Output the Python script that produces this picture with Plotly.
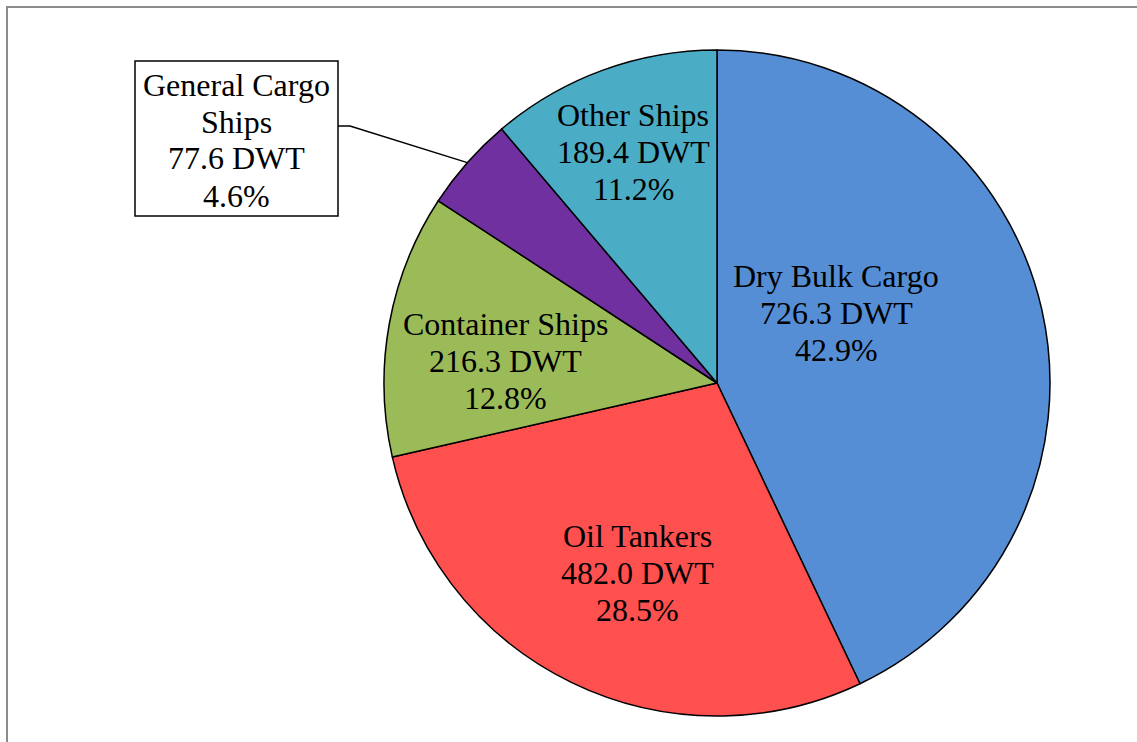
import plotly.graph_objects as go
import math

# Fleet composition by deadweight tonnage
categories = ["Dry Bulk Cargo", "Oil Tankers", "Container Ships", "General Cargo Ships", "Other Ships"]
dwt = [726.3, 482.0, 216.3, 77.6, 189.4]
colors = ["#558ED5", "#FF5050", "#9BBB59", "#7030A0", "#4BACC6"]

# label line-wrapping as drawn on the chart
label_lines = {
    "General Cargo Ships": ["General Cargo", "Ships"],
}

W, H = 1137, 742
CX, CY, R = 717, 383, 333
FONT = dict(family="Liberation Serif, Times New Roman, serif", size=32, color="black")
LINE_H = 37

# label block centres (pixels)
label_pos = {
    "Dry Bulk Cargo": (836, 313),
    "Oil Tankers": (637, 573),
    "Container Ships": (505, 361),
    "Other Ships": (633, 152),
    "General Cargo Ships": (236, 140),
}


def px(x, y):
    return x / W, 1 - y / H


total = sum(dwt)
fig = go.Figure(go.Pie(
    labels=categories,
    values=dwt,
    sort=False,
    direction="clockwise",
    rotation=0,
    marker=dict(colors=colors, line=dict(color="black", width=1.5)),
    textinfo="none",
    hoverinfo="label+value+percent",
    domain=dict(x=[(CX - R) / W, (CX + R) / W], y=[1 - (CY + R) / H, 1 - (CY - R) / H]),
    showlegend=False,
))

annotations = []
for name, v in zip(categories, dwt):
    lines = label_lines.get(name, [name]) + [f"{v:.1f} DWT", f"{100 * v / total:.1f}%"]
    bx, by = label_pos[name]
    n = len(lines)
    for i, t in enumerate(lines):
        ly = by + (i - (n - 1) / 2) * LINE_H
        x, y = px(bx, ly)
        annotations.append(dict(x=x, y=y, xref="paper", yref="paper", text=t,
                                showarrow=False, xanchor="center", yanchor="middle", font=FONT))

shapes = [
    # outer frame
    dict(type="rect", xref="paper", yref="paper", x0=7 / W, y0=-0.1, x1=1.1, y1=1 - 7 / H,
         line=dict(color="#8C8C8C", width=2), fillcolor="rgba(0,0,0,0)"),
]

# callout box for the small slice
bx0, by0, bx1, by1 = 135, 61, 338, 216
x0, y0 = px(bx0, by0)
x1, y1 = px(bx1, by1)
shapes.append(dict(type="rect", xref="paper", yref="paper", x0=x0, y0=y1, x1=x1, y1=y0,
                   line=dict(color="black", width=1.5), fillcolor="white", layer="below"))

# leader line to the middle of the General Cargo slice edge
idx = categories.index("General Cargo Ships")
start = sum(dwt[:idx]) / total
mid = start + dwt[idx] / total / 2
ang = 2 * math.pi * mid
ex, ey = CX + R * math.sin(ang), CY - R * math.cos(ang)
p1 = px(bx1, 126)
p2 = px(350, 126)
p3 = px(ex, ey)
shapes.append(dict(type="path", xref="paper", yref="paper",
                   path=f"M {p1[0]},{p1[1]} L {p2[0]},{p2[1]} L {p3[0]},{p3[1]}",
                   line=dict(color="black", width=1.5)))

fig.update_layout(
    width=W, height=H,
    margin=dict(l=0, r=0, t=0, b=0),
    paper_bgcolor="white",
    plot_bgcolor="white",
    annotations=annotations,
    shapes=shapes,
)

fig.write_html("out.html")
